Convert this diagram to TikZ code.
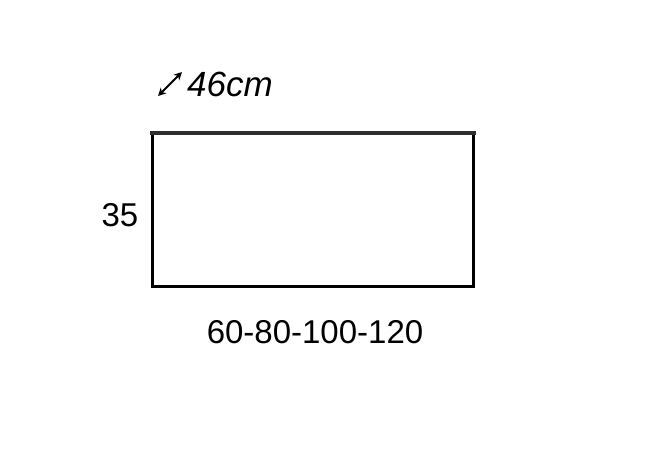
\documentclass[tikz,border=0pt]{standalone}
\usepackage{fontspec}
\setmainfont{Liberation Sans}
\usetikzlibrary{arrows.meta}
\definecolor{lid}{HTML}{2E2E2E}
\tikzset{
  dimtext/.style={anchor=base, inner sep=0pt, font=\fontsize{33}{33}\selectfont},
  frame/.style={line width=3pt, line join=miter},
}
\begin{document}
\begin{tikzpicture}[x=1pt,y=-1pt]
	\useasboundingbox (0,0) rectangle (656,455);
	\coordinate (tl) at (152,133);
	\coordinate (tr) at (473,133);
	\coordinate (bl) at (152,286);
	\coordinate (br) at (473,286);
	\coordinate (ll) at (150,132.5);
	\coordinate (lr) at (476,132.5);
	\draw[frame] (tl) -- (bl) -- (br) -- (tr);
	\draw[line width=4pt, lid] (ll) -- (lr);
	\draw (120,226) node[dimtext] (height) {35};
	\draw (315,343) node[dimtext] (width) {60-80-100-120};
	\draw (187,96) node[dimtext, anchor=base west, font=\fontsize{35}{35}\selectfont\itshape] (depth) {46cm};
	\coordinate (da) at (158,96);
	\coordinate (db) at (182,72);
	\draw[line width=2pt, {Stealth[length=8pt,width=8pt]}-{Stealth[length=8pt,width=8pt]}] (da) -- (db);
\end{tikzpicture}
\end{document}
